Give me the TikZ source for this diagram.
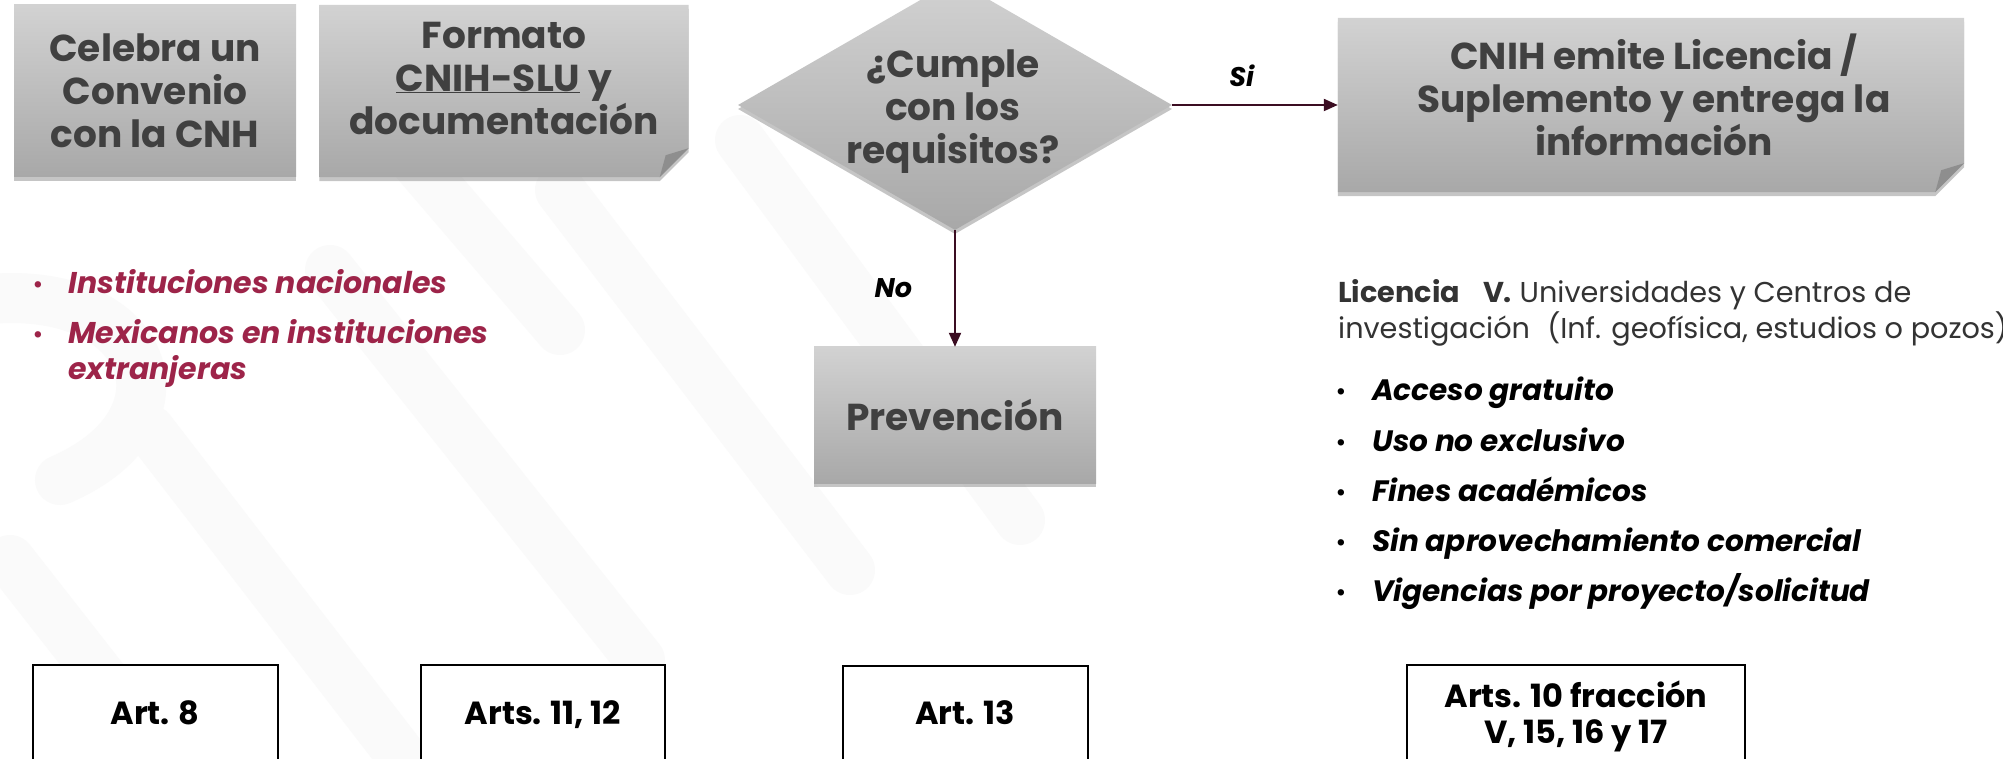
\documentclass[tikz,border=0pt]{standalone}
\usepackage{fontspec}
\setmainfont{Poppins}
\usetikzlibrary{arrows.meta,shadows,calc,shapes.geometric}
\definecolor{maroon}{HTML}{9D2449}
\definecolor{txtgray}{HTML}{404040}
\definecolor{boxtop}{HTML}{D2D2D2}
\definecolor{boxbot}{HTML}{A8A8A8}
\definecolor{flapc}{HTML}{8E8E8E}
\definecolor{arrowc}{HTML}{3B0D22}
\definecolor{wm}{HTML}{FAFAFA}
\newcommand\boxfont{\fontsize{37.5}{43}\selectfont\bfseries}
\begin{document}
\begin{tikzpicture}[x=1pt,y=-1pt,
  gshade/.style={top color=boxtop,bottom color=boxbot,draw=none,
    drop shadow={shadow xshift=0pt,shadow yshift=-4pt,opacity=0.45}},
  gbox/.style={gshade,inner sep=0pt,font=\boxfont,text=txtgray,align=center},
  frame/.style={draw=none,fill=none,inner sep=0pt},
  gtext/.style={font=\boxfont,text=txtgray,align=center,inner sep=0pt},
  arr/.style={draw=arrowc,line width=2pt,-{Triangle[length=14pt,width=12pt]}},
  lbl/.style={font=\fontsize{27}{30}\selectfont\bfseries\itshape,text=black,inner sep=0pt},
  redbul/.style={font=\fontsize{30}{36}\selectfont\bfseries\itshape,text=maroon,inner sep=0pt,align=left},
  blkbul/.style={font=\fontsize{29.5}{34}\selectfont\bfseries\itshape,text=black,inner sep=0pt,anchor=base west},
  dot/.style={font=\fontsize{26}{26}\selectfont,inner sep=0pt,anchor=base},
  artbox/.style={draw=black,line width=2pt,fill=white,inner sep=0pt},
  arttext/.style={font=\fontsize{32}{36}\selectfont\bfseries,text=black,align=center,inner sep=0pt},
  wmark/.style={draw=wm,line width=50pt,line cap=round}
]
\useasboundingbox (0,0) rectangle (2003,759);
\fill[white] (0,0) rectangle (2003,759);
% faint watermark bands
\draw[wmark] (150,430) -- (420,780);
\draw[wmark] (10,560) -- (190,790);
\draw[wmark] (330,270) -- (640,660);
\draw[wmark] (560,190) -- (850,570);
\draw[wmark] (740,140) -- (1020,520);
\draw[wmark] (380,120) -- (560,330);
\draw[wmark] (-20,300) .. controls (150,280) and (200,420) .. (60,480);

% box 1
\node[gbox,minimum width=282pt,minimum height=172pt] (b1) at (155,91)
  {Celebra un\\Convenio\\con la CNH};

% box 2 (folded corner)
\node[frame,minimum width=369pt,minimum height=172pt] (b2) at (504,91) {};
\shade[gshade] (b2.north west) -- (b2.north east) -- ($(b2.south east)+(0,-29)$)
  -- ($(b2.south east)+(-29,0)$) -- (b2.south west) -- cycle;
\fill[flapc] ($(b2.south east)+(0,-29)$) -- ($(b2.south east)+(-29,0)$) -- ($(b2.south east)+(-23,-22)$) -- cycle;
\node[gtext] (b2t) at (504,78) {Formato\\\underline{CNIH-SLU} y\\documentación};

% diamond
\node[diamond,shape aspect=1.736,minimum width=434pt,minimum height=250pt,inner sep=0pt,gshade] (dia) at (955,105) {};
\node[gtext] (diat) at (953,112) {¿Cumple\\con los\\requisitos?};

% box 3 (folded corner)
\node[frame,minimum width=626pt,minimum height=174pt] (b3) at (1651,105) {};
\shade[gshade] (b3.north west) -- (b3.north east) -- ($(b3.south east)+(0,-29)$)
  -- ($(b3.south east)+(-29,0)$) -- (b3.south west) -- cycle;
\fill[flapc] ($(b3.south east)+(0,-29)$) -- ($(b3.south east)+(-29,0)$) -- ($(b3.south east)+(-23,-22)$) -- cycle;
\node[gtext] (b3t) at (1654,95) {CNIH emite Licencia /\\Suplemento y entrega la\\información};

% prevencion
\node[gbox,minimum width=282pt,minimum height=136pt] (pv) at (955,415) {Prevención};

% connectors
\draw[arr] (dia.east) -- node[lbl,pos=0.42,above=17pt] (si) {Si} (b3.west);
\draw[arr] (dia.south) -- node[lbl,midway,left=42pt] (no) {No} (pv.north);

% left bullets
\node[dot,text=maroon] (ld1) at (38,294) {•};
\node[redbul,anchor=base west] (lt1) at (68,294) {Instituciones nacionales};
\node[dot,text=maroon] (ld2) at (38,344) {•};
\node[redbul,anchor=base west] (lt2) at (68,344) {Mexicanos en instituciones};
\node[redbul,anchor=base west] (lt3) at (68,379) {extranjeras};

% right text
\node[anchor=base west,inner sep=0pt,text=txtgray!80!black,
  font=\fontsize{28.7}{35}\selectfont] (lic1) at (1338,303)
  {\textbf{Licencia}\hspace{0.8em}\textbf{V.} Universidades y Centros de};
\node[anchor=base west,inner sep=0pt,text=txtgray!80!black,
  font=\fontsize{28.7}{35}\selectfont] (lic2) at (1338,338)
  {investigación\hspace{0.6em}(Inf. geofísica, estudios o pozos)};
\node[dot] (rd1) at (1341,400) {•};
\node[blkbul] (rt1) at (1372,400) {Acceso gratuito};
\node[dot] (rd2) at (1341,451) {•};
\node[blkbul] (rt2) at (1372,451) {Uso no exclusivo};
\node[dot] (rd3) at (1341,501) {•};
\node[blkbul] (rt3) at (1372,501) {Fines académicos};
\node[dot] (rd4) at (1341,551) {•};
\node[blkbul] (rt4) at (1372,551) {Sin aprovechamiento comercial};
\node[dot] (rd5) at (1341,601) {•};
\node[blkbul] (rt5) at (1372,601) {Vigencias por proyecto/solicitud};

% bottom article boxes
\node[artbox,minimum width=245pt,minimum height=150pt] (a1) at (155,740) {};
\node[arttext,anchor=base] (a1t) at (155,724) {Art. 8};
\node[artbox,minimum width=244pt,minimum height=150pt] (a2) at (543,740) {};
\node[arttext,anchor=base] (a2t) at (543,724) {Arts. 11, 12};
\node[artbox,minimum width=245pt,minimum height=150pt] (a3) at (965,741) {};
\node[arttext,anchor=base] (a3t) at (965,724) {Art. 13};
\node[artbox,minimum width=338pt,minimum height=150pt] (a4) at (1576,740) {};
\node[arttext,anchor=base] (a4ta) at (1576,707) {Arts. 10 fracción};
\node[arttext,anchor=base] (a4tb) at (1576,743) {V, 15, 16 y 17};
\end{tikzpicture}
\end{document}
